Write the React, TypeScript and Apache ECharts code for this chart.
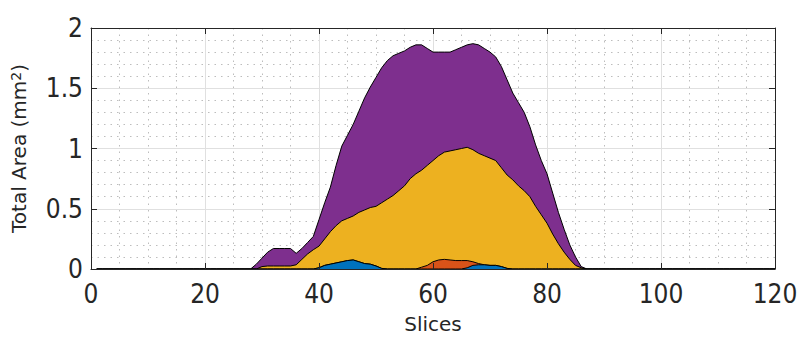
import React, { useEffect, useRef } from "react";
import * as echarts from "echarts";

// Per-slice areas (mm^2) for slices 1..120, stacked bottom to top
const blue = [
  0, 0, 0, 0, 0, 0, 0, 0, 0, 0,
  0, 0, 0, 0, 0, 0, 0, 0, 0, 0,
  0, 0, 0, 0, 0, 0, 0, 0, 0, 0,
  0, 0, 0, 0, 0, 0, 0, 0, 0, 0.01,
  0.03, 0.04, 0.05, 0.06, 0.07, 0.075, 0.06, 0.045, 0.04, 0.025,
  0.005, 0, 0, 0, 0, 0, 0, 0, 0, 0,
  0, 0, 0, 0, 0, 0.01, 0.03, 0.035, 0.035, 0.03,
  0.03, 0.02, 0.005, 0, 0, 0, 0, 0, 0, 0,
  0, 0, 0, 0, 0, 0, 0, 0, 0, 0,
  0, 0, 0, 0, 0, 0, 0, 0, 0, 0,
  0, 0, 0, 0, 0, 0, 0, 0, 0, 0,
  0, 0, 0, 0, 0, 0, 0, 0, 0, 0,
];

const orange = [
  0, 0, 0, 0, 0, 0, 0, 0, 0, 0,
  0, 0, 0, 0, 0, 0, 0, 0, 0, 0,
  0, 0, 0, 0, 0, 0, 0, 0, 0, 0,
  0, 0, 0, 0, 0, 0, 0, 0, 0, 0,
  0, 0, 0, 0, 0, 0, 0, 0, 0, 0,
  0, 0, 0, 0, 0, 0, 0, 0.015, 0.03, 0.06,
  0.075, 0.08, 0.075, 0.07, 0.07, 0.06, 0.03, 0.01, 0, 0,
  0, 0, 0, 0, 0, 0, 0, 0, 0, 0,
  0, 0, 0, 0, 0, 0, 0, 0, 0, 0,
  0, 0, 0, 0, 0, 0, 0, 0, 0, 0,
  0, 0, 0, 0, 0, 0, 0, 0, 0, 0,
  0, 0, 0, 0, 0, 0, 0, 0, 0, 0,
];

const yellow = [
  0, 0, 0, 0, 0, 0, 0, 0, 0, 0,
  0, 0, 0, 0, 0, 0, 0, 0, 0, 0,
  0, 0, 0, 0, 0, 0, 0, 0, 0, 0.02,
  0.025, 0.025, 0.025, 0.025, 0.025, 0.035, 0.08, 0.125, 0.16, 0.18,
  0.22, 0.27, 0.31, 0.34, 0.35, 0.365, 0.41, 0.445, 0.47, 0.495,
  0.545, 0.58, 0.61, 0.65, 0.69, 0.75, 0.79, 0.805, 0.83, 0.84,
  0.865, 0.89, 0.905, 0.92, 0.93, 0.94, 0.93, 0.915, 0.905, 0.89,
  0.87, 0.82, 0.775, 0.74, 0.69, 0.65, 0.6, 0.52, 0.45, 0.38,
  0.29, 0.21, 0.14, 0.08, 0.03, 0.01, 0, 0, 0, 0,
  0, 0, 0, 0, 0, 0, 0, 0, 0, 0,
  0, 0, 0, 0, 0, 0, 0, 0, 0, 0,
  0, 0, 0, 0, 0, 0, 0, 0, 0, 0,
];

const purple = [
  0, 0, 0, 0, 0, 0, 0, 0, 0, 0,
  0, 0, 0, 0, 0, 0, 0, 0, 0, 0,
  0, 0, 0, 0, 0, 0, 0, 0, 0.04, 0.07,
  0.115, 0.145, 0.145, 0.145, 0.145, 0.095, 0.09, 0.095, 0.11, 0.22,
  0.3, 0.37, 0.5, 0.62, 0.69, 0.76, 0.84, 0.93, 1.0, 1.07,
  1.12, 1.15, 1.16, 1.14, 1.12, 1.09, 1.07, 1.04, 0.97, 0.9,
  0.86, 0.83, 0.82, 0.83, 0.84, 0.85, 0.88, 0.9, 0.89, 0.88,
  0.86, 0.84, 0.79, 0.72, 0.69, 0.65, 0.58, 0.51, 0.45, 0.41,
  0.34, 0.26, 0.19, 0.12, 0.07, 0.01, 0, 0, 0, 0,
  0, 0, 0, 0, 0, 0, 0, 0, 0, 0,
  0, 0, 0, 0, 0, 0, 0, 0, 0, 0,
  0, 0, 0, 0, 0, 0, 0, 0, 0, 0,
];

const xTicks = [0, 20, 40, 60, 80, 100, 120];
const yTicks = [0, 0.5, 1, 1.5, 2];

const seriesDefs = [
  { name: "Series 1", values: blue, color: "#0072BD" },
  { name: "Series 2", values: orange, color: "#D95319" },
  { name: "Series 3", values: yellow, color: "#EDB120" },
  { name: "Series 4", values: purple, color: "#7E2F8E" },
];

const AX = "#262626";
const TICK_FONT = "'DejaVu Sans Condensed', 'DejaVu Sans', sans-serif";
const LABEL_FONT = "'DejaVu Sans', sans-serif";

export default function App() {
  const ref = useRef<HTMLDivElement>(null);

  useEffect(() => {
    if (!ref.current) return;
    const chart = echarts.init(ref.current, undefined, { renderer: "svg" });
    const majorGrid = { show: true, lineStyle: { color: "#e0e0e0", width: 1 } };
    const minorGrid = { show: true, lineStyle: { color: "#bdbdbd", width: 1, type: [1.5, 5] } };

    // cumulative tops (stack bottom -> top)
    const running = blue.map(() => 0);
    const stacked = seriesDefs.map((d) => {
      const tops = d.values.map((v, i) => {
        running[i] = running[i] + v;
        return running[i];
      });
      return { ...d, tops };
    });

    // draw top of stack first, lower layers on top of it
    const series = stacked
      .slice()
      .reverse()
      .map((d, k) => ({
        name: d.name,
        type: "line",
        xAxisIndex: 0,
        yAxisIndex: 0,
        symbol: "none",
        showSymbol: false,
        data: d.tops.map((v, i) => [i + 1, Math.round(v * 10000) / 10000]),
        lineStyle: { color: "#000000", width: 1 },
        itemStyle: { color: d.color },
        areaStyle: { color: d.color, opacity: 1, origin: "start" },
        z: 2 + k,
      }));

    const option: any = {
      animation: false,
      backgroundColor: "#ffffff",
      grid: { left: 91, right: 33, top: 28, bottom: 70, containLabel: false },
      xAxis: [
        {
          type: "value",
          position: "bottom",
          min: xTicks[0],
          max: xTicks[xTicks.length - 1],
          interval: xTicks[1] - xTicks[0],
          z: 20,
          axisLine: { show: true, onZero: false, lineStyle: { color: AX, width: 1 } },
          axisTick: { show: true, inside: true, length: 6, lineStyle: { color: AX } },
          axisLabel: { color: AX, fontSize: 26, fontFamily: TICK_FONT, margin: 12 },
          splitLine: { show: false },
          name: "Slices",
          nameLocation: "middle",
          nameGap: 45,
          nameTextStyle: { color: AX, fontSize: 20, fontFamily: LABEL_FONT },
        },
        {
          type: "value",
          position: "top",
          min: xTicks[0],
          max: xTicks[xTicks.length - 1],
          interval: xTicks[1] - xTicks[0],
          axisLine: { show: true, onZero: false, lineStyle: { color: AX, width: 1 } },
          axisTick: { show: true, inside: true, length: 6, lineStyle: { color: AX } },
          axisLabel: { show: false },
          splitLine: majorGrid,
          minorTick: { show: false, splitNumber: 4 },
          minorSplitLine: minorGrid,
        },
      ],
      yAxis: [
        {
          type: "value",
          position: "left",
          min: yTicks[0],
          max: yTicks[yTicks.length - 1],
          interval: yTicks[1] - yTicks[0],
          z: 20,
          axisLine: { show: true, onZero: false, lineStyle: { color: AX, width: 1 } },
          axisTick: { show: true, inside: true, length: 6, lineStyle: { color: AX } },
          axisLabel: { color: AX, fontSize: 26, fontFamily: TICK_FONT, margin: 8 },
          splitLine: { show: false },
          name: "{a|Total Area (mm}{s|2}{a|)}",
          nameLocation: "middle",
          nameRotate: 90,
          nameGap: 62,
          nameTextStyle: {
            color: AX,
            fontFamily: LABEL_FONT,
            fontSize: 20,
            rich: {
              a: { color: AX, fontFamily: LABEL_FONT, fontSize: 20 },
              s: { color: AX, fontFamily: LABEL_FONT, fontSize: 14, verticalAlign: "top", padding: [0, 0, 6, 0] },
            },
          },
        },
        {
          type: "value",
          position: "right",
          min: yTicks[0],
          max: yTicks[yTicks.length - 1],
          interval: yTicks[1] - yTicks[0],
          axisLine: { show: true, onZero: false, lineStyle: { color: AX, width: 1 } },
          axisTick: { show: true, inside: true, length: 6, lineStyle: { color: AX } },
          axisLabel: { show: false },
          splitLine: majorGrid,
          minorTick: { show: false, splitNumber: 5 },
          minorSplitLine: minorGrid,
        },
      ],
      series,
    };
    chart.setOption(option);
    return () => chart.dispose();
  }, []);

  return (
    <div
      ref={ref}
      style={{ position: "absolute", left: 0, top: 0, width: 808, height: 339 }}
    />
  );
}
